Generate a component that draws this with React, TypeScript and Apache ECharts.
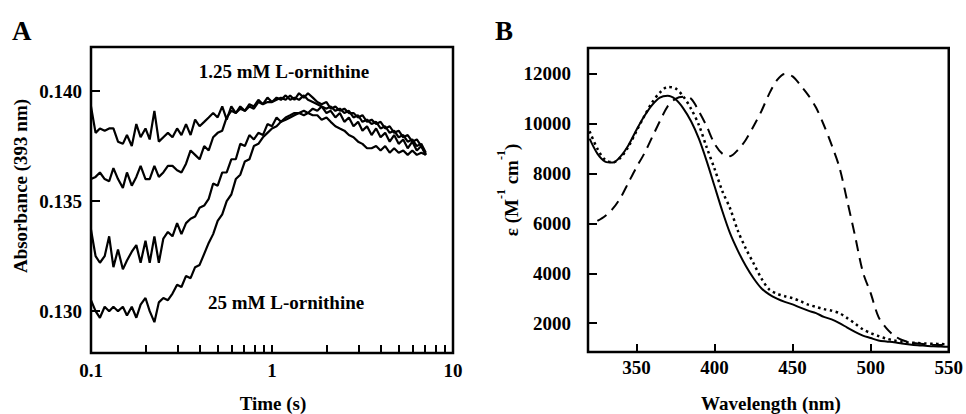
import React, { useEffect, useRef } from "react";
import * as echarts from "echarts";

// ---------- Panel A: absorbance (393 nm) vs time (s), log time axis ----------
const timeS = [
  0.100, 0.106, 0.112, 0.119, 0.126, 0.133, 0.141, 0.150, 0.158, 0.168,
  0.178, 0.188, 0.200, 0.211, 0.224, 0.237, 0.251, 0.266, 0.282, 0.299,
  0.316, 0.335, 0.355, 0.376, 0.398, 0.422, 0.447, 0.473, 0.501, 0.531,
  0.562, 0.596, 0.631, 0.668, 0.708, 0.750, 0.794, 0.841, 0.891, 0.944,
  1.00, 1.06, 1.12, 1.19, 1.26, 1.33, 1.41, 1.50, 1.58, 1.68,
  1.78, 1.88, 2.00, 2.11, 2.24, 2.37, 2.51, 2.66, 2.82, 2.99,
  3.16, 3.35, 3.55, 3.76, 3.98, 4.22, 4.47, 4.73, 5.01, 5.31,
  5.62, 5.96, 6.31, 6.68, 7.08,
];

const absTrace1 = [
  0.1393, 0.1381, 0.1383, 0.1382, 0.1383, 0.1383, 0.1377, 0.1376, 0.1380, 0.1375,
  0.1385, 0.1379, 0.1383, 0.1378, 0.1391, 0.1377, 0.1379, 0.1381, 0.1379, 0.1383,
  0.1380, 0.1385, 0.1380, 0.1387, 0.1384, 0.1386, 0.1388, 0.1390, 0.1388, 0.1393,
  0.1387, 0.1393, 0.1390, 0.1393, 0.1391, 0.1394, 0.1393, 0.1396, 0.1394, 0.1397,
  0.1395, 0.1397, 0.1396, 0.1398, 0.1396, 0.1397, 0.1396, 0.1398, 0.1396, 0.1395,
  0.1394, 0.1393, 0.1392, 0.1393, 0.1391, 0.1392, 0.1390, 0.1391, 0.1388, 0.1389,
  0.1386, 0.1387, 0.1385, 0.1386, 0.1383, 0.1384, 0.1381, 0.1382, 0.1379, 0.1380,
  0.1377, 0.1378, 0.1375, 0.1376, 0.1372,
];

const absTrace2 = [
  0.1360, 0.1361, 0.1363, 0.1360, 0.1359, 0.1365, 0.1360, 0.1356, 0.1363, 0.1357,
  0.1361, 0.1366, 0.1360, 0.1360, 0.1366, 0.1361, 0.1363, 0.1366, 0.1366, 0.1364,
  0.1363, 0.1367, 0.1373, 0.1371, 0.1369, 0.1375, 0.1373, 0.1379, 0.1381, 0.1382,
  0.1388, 0.1391, 0.1390, 0.1392, 0.1391, 0.1393, 0.1392, 0.1395, 0.1394, 0.1395,
  0.1395, 0.1396, 0.1397, 0.1396, 0.1398, 0.1396, 0.1399, 0.1397, 0.1399, 0.1397,
  0.1395, 0.1394, 0.1395, 0.1392, 0.1393, 0.1391, 0.1392, 0.1390, 0.1390, 0.1388,
  0.1389, 0.1386, 0.1387, 0.1385, 0.1386, 0.1383, 0.1384, 0.1381, 0.1382, 0.1379,
  0.1380, 0.1377, 0.1378, 0.1375, 0.1371,
];

const absTrace3 = [
  0.1337, 0.1325, 0.1322, 0.1325, 0.1334, 0.1320, 0.1328, 0.1319, 0.1323, 0.1327,
  0.1330, 0.1322, 0.1332, 0.1322, 0.1334, 0.1322, 0.1333, 0.1336, 0.1334, 0.1340,
  0.1335, 0.1340, 0.1342, 0.1343, 0.1347, 0.1348, 0.1351, 0.1358, 0.1357, 0.1363,
  0.1363, 0.1369, 0.1369, 0.1376, 0.1375, 0.1380, 0.1378, 0.1381, 0.1380, 0.1385,
  0.1384, 0.1388, 0.1386, 0.1388, 0.1389, 0.1390, 0.1390, 0.1391, 0.1390, 0.1392,
  0.1391, 0.1393, 0.1390, 0.1391, 0.1388, 0.1390, 0.1386, 0.1388, 0.1384, 0.1386,
  0.1382, 0.1384, 0.1380, 0.1383, 0.1379, 0.1381, 0.1377, 0.1380, 0.1376, 0.1378,
  0.1374, 0.1377, 0.1373, 0.1375, 0.1371,
];

const absTrace4 = [
  0.1305, 0.1300, 0.1297, 0.1302, 0.1300, 0.1302, 0.1300, 0.1302, 0.1298, 0.1302,
  0.1297, 0.1303, 0.1306, 0.1300, 0.1295, 0.1304, 0.1306, 0.1305, 0.1308, 0.1312,
  0.1311, 0.1316, 0.1315, 0.1320, 0.1321, 0.1326, 0.1331, 0.1335, 0.1341, 0.1344,
  0.1350, 0.1353, 0.1360, 0.1362, 0.1368, 0.1369, 0.1375, 0.1376, 0.1379, 0.1381,
  0.1383, 0.1384, 0.1386, 0.1387, 0.1388, 0.1389, 0.1390, 0.1389, 0.1390, 0.1389,
  0.1389, 0.1387, 0.1388, 0.1386, 0.1384, 0.1383, 0.1382, 0.1380, 0.1379, 0.1377,
  0.1376, 0.1374, 0.1374, 0.1375, 0.1373, 0.1375, 0.1372, 0.1374, 0.1372, 0.1373,
  0.1371, 0.1373, 0.1371, 0.1372, 0.1371,
];

const absTickValues = [0.13, 0.135, 0.14];
const timeTickValues = [0.1, 0.2, 0.3, 0.4, 0.5, 0.6, 0.7, 0.8, 0.9, 1, 2, 3, 4, 5, 6, 7, 8, 9, 10];
const timeLabelValues = [0.1, 1, 10];

// ---------- Panel B: extinction coefficient spectra ----------
const wavelengthNm = [
  320, 325, 330, 335, 340, 345, 350, 355, 360, 365, 370, 375, 380, 385, 390, 395,
  400, 405, 410, 415, 420, 425, 430, 435, 440, 445, 450, 455, 460, 465, 470, 475,
  480, 485, 490, 495, 500, 505, 510, 515, 520, 525, 530, 535, 540, 545, 550,
];

const epsSolid = [
  9400, 8800, 8480, 8440, 8700, 9150, 9750, 10300, 10750, 11050, 11120, 10980, 10620, 10100, 9400, 8500,
  7500, 6500, 5600, 4900, 4300, 3800, 3400, 3150, 2980, 2850, 2750, 2620, 2500, 2400, 2250, 2150,
  2000, 1820, 1650, 1500, 1400, 1300, 1260, 1230, 1180, 1140, 1110, 1090, 1070, 1060, 1050,
];

const epsDotted = [
  9700, 9000, 8550, 8450, 8650, 9100, 9700, 10300, 10850, 11250, 11480, 11420, 11100, 10600, 9950, 9050,
  8200, 7300, 6600, 5700, 5000, 4400, 3800, 3350, 3180, 3080, 3000, 2880, 2740, 2650, 2560, 2500,
  2400, 2200, 1980, 1750, 1600, 1480, 1380, 1300, 1250, 1220, 1200, 1180, 1170, 1160, 1150,
];

const epsDashed = [
  null, 6100, 6300, 6600, 7050, 7650, 8250, 8800, 9450, 10100, 10700, 11000, 11080, 11000, 10500, 9900,
  9200, 8800, 8700, 8950, 9350, 9900, 10500, 11200, 11750, 12000, 11900, 11550, 11150, 10650, 9950, 9150,
  8250, 6900, 5500, 4050, 3200, 2250, 1800, 1500, 1320, 1230, 1180, 1150, 1130, 1120, 1110,
];

const wlTickValues = [350, 400, 450, 500, 550];
const epsTickValues = [2000, 4000, 6000, 8000, 10000, 12000];

const FONT = "'Liberation Serif', 'Times New Roman', serif";

function pairs(xs: number[], ys: (number | null)[]) {
  const out: number[][] = [];
  xs.forEach((x, i) => {
    const y = ys[i];
    if (y !== null && y !== undefined) out.push([x, y]);
  });
  return out;
}

const labelStyle = {
  fontSize: 19,
  fontWeight: "bold" as const,
  fontFamily: FONT,
  color: "#000",
};

const tickStyle = { color: "#000", width: 2 };

export default function App() {
  const ref = useRef<HTMLDivElement>(null);

  useEffect(() => {
    if (!ref.current) return;
    const chart = echarts.init(ref.current, undefined, { renderer: "svg" });

    const traceLine = { color: "#000", width: 2.2 };

    const option: any = {
      animation: false,
      backgroundColor: "#fff",
      grid: [
        { left: 91, top: 47, width: 362, height: 306, show: true, borderColor: "#000", borderWidth: 2.5, backgroundColor: "transparent" },
        { left: 588, top: 48, width: 363, height: 304, show: true, borderColor: "#000", borderWidth: 2.5, backgroundColor: "transparent" },
      ],
      xAxis: [
        {
          type: "log",
          logBase: 10,
          gridIndex: 0,
          min: 0.1,
          max: 10,
          axisLine: { show: false },
          splitLine: { show: false },
          minorTick: { show: false },
          minorSplitLine: { show: false },
          axisTick: { show: true, inside: true, length: 8, lineStyle: tickStyle, customValues: timeTickValues },
          axisLabel: {
            ...labelStyle,
            margin: 8,
            customValues: timeLabelValues,
            formatter: (v: number) => String(v),
          },
        },
        {
          type: "value",
          gridIndex: 1,
          min: 319,
          max: 550,
          axisLine: { show: false },
          splitLine: { show: false },
          axisTick: { show: true, inside: true, length: 8, lineStyle: tickStyle, customValues: wlTickValues },
          axisLabel: { ...labelStyle, margin: 6, customValues: wlTickValues, formatter: (v: number) => String(v) },
        },
      ],
      yAxis: [
        {
          type: "value",
          gridIndex: 0,
          min: 0.1281,
          max: 0.142,
          axisLine: { show: false },
          splitLine: { show: false },
          axisTick: { show: true, inside: true, length: 9, lineStyle: tickStyle, customValues: absTickValues },
          axisLabel: {
            ...labelStyle,
            margin: 9,
            customValues: absTickValues,
            formatter: (v: number) => v.toFixed(3),
          },
        },
        {
          type: "value",
          gridIndex: 1,
          min: 840,
          max: 13040,
          axisLine: { show: false },
          splitLine: { show: false },
          axisTick: { show: true, inside: true, length: 9, lineStyle: tickStyle, customValues: epsTickValues },
          axisLabel: { ...labelStyle, margin: 17, customValues: epsTickValues, formatter: (v: number) => String(v) },
        },
      ],
      series: [
        { type: "line", xAxisIndex: 0, yAxisIndex: 0, showSymbol: false, data: pairs(timeS, absTrace1), lineStyle: traceLine },
        { type: "line", xAxisIndex: 0, yAxisIndex: 0, showSymbol: false, data: pairs(timeS, absTrace2), lineStyle: traceLine },
        { type: "line", xAxisIndex: 0, yAxisIndex: 0, showSymbol: false, data: pairs(timeS, absTrace3), lineStyle: traceLine },
        { type: "line", xAxisIndex: 0, yAxisIndex: 0, showSymbol: false, data: pairs(timeS, absTrace4), lineStyle: traceLine },
        {
          type: "line", xAxisIndex: 1, yAxisIndex: 1, showSymbol: false, smooth: 0.3,
          data: pairs(wavelengthNm, epsSolid),
          lineStyle: { color: "#000", width: 2 },
        },
        {
          type: "line", xAxisIndex: 1, yAxisIndex: 1, showSymbol: false, smooth: 0.3,
          data: pairs(wavelengthNm, epsDotted),
          lineStyle: { color: "#000", width: 2.5, type: [2.5, 3.5] },
        },
        {
          type: "line", xAxisIndex: 1, yAxisIndex: 1, showSymbol: false, smooth: 0.3,
          data: pairs(wavelengthNm, epsDashed),
          lineStyle: { color: "#000", width: 2, type: [11, 7] },
        },
      ],
      graphic: [
        { type: "text", x: 12, y: 30.5, style: { text: "A", fontSize: 27, fontWeight: "bold", fontFamily: FONT, fill: "#000", align: "left", verticalAlign: "middle" } },
        { type: "text", x: 495, y: 30.5, style: { text: "B", fontSize: 27, fontWeight: "bold", fontFamily: FONT, fill: "#000", align: "left", verticalAlign: "middle" } },
        { type: "text", x: 284, y: 71.5, style: { text: "1.25 mM L-ornithine", fontSize: 19, fontWeight: "bold", fontFamily: FONT, fill: "#000", align: "center", verticalAlign: "middle" } },
        { type: "text", x: 208, y: 302, style: { text: "25 mM L-ornithine", fontSize: 19, fontWeight: "bold", fontFamily: FONT, fill: "#000", align: "left", verticalAlign: "middle" } },
        { type: "text", x: 273, y: 403.5, style: { text: "Time (s)", fontSize: 19, fontWeight: "bold", fontFamily: FONT, fill: "#000", align: "center", verticalAlign: "middle" } },
        { type: "text", x: 771, y: 403.5, style: { text: "Wavelength (nm)", fontSize: 19, fontWeight: "bold", fontFamily: FONT, fill: "#000", align: "center", verticalAlign: "middle" } },
        {
          type: "text", x: 20.5, y: 186, rotation: Math.PI / 2,
          style: { text: "Absorbance (393 nm)", fontSize: 19, fontWeight: "bold", fontFamily: FONT, fill: "#000", align: "center", verticalAlign: "middle" },
        },
        {
          type: "text", x: 508, y: 190, rotation: Math.PI / 2,
          style: {
            text: "{m|ε (M}{s|-1}{m| cm}{s|-1}{m|)}",
            fill: "#000",
            align: "center",
            verticalAlign: "middle",
            rich: {
              m: { fontSize: 19, fontWeight: "bold", fontFamily: FONT, fill: "#000", lineHeight: 26, verticalAlign: "bottom" },
              s: { fontSize: 12, fontWeight: "bold", fontFamily: FONT, fill: "#000", lineHeight: 14, verticalAlign: "top" },
            },
          },
        },
      ],
    };

    chart.setOption(option);
    return () => chart.dispose();
  }, []);

  return (
    <div
      ref={ref}
      style={{ position: "absolute", left: 0, top: 0, width: 966, height: 414, background: "#fff" }}
    />
  );
}
